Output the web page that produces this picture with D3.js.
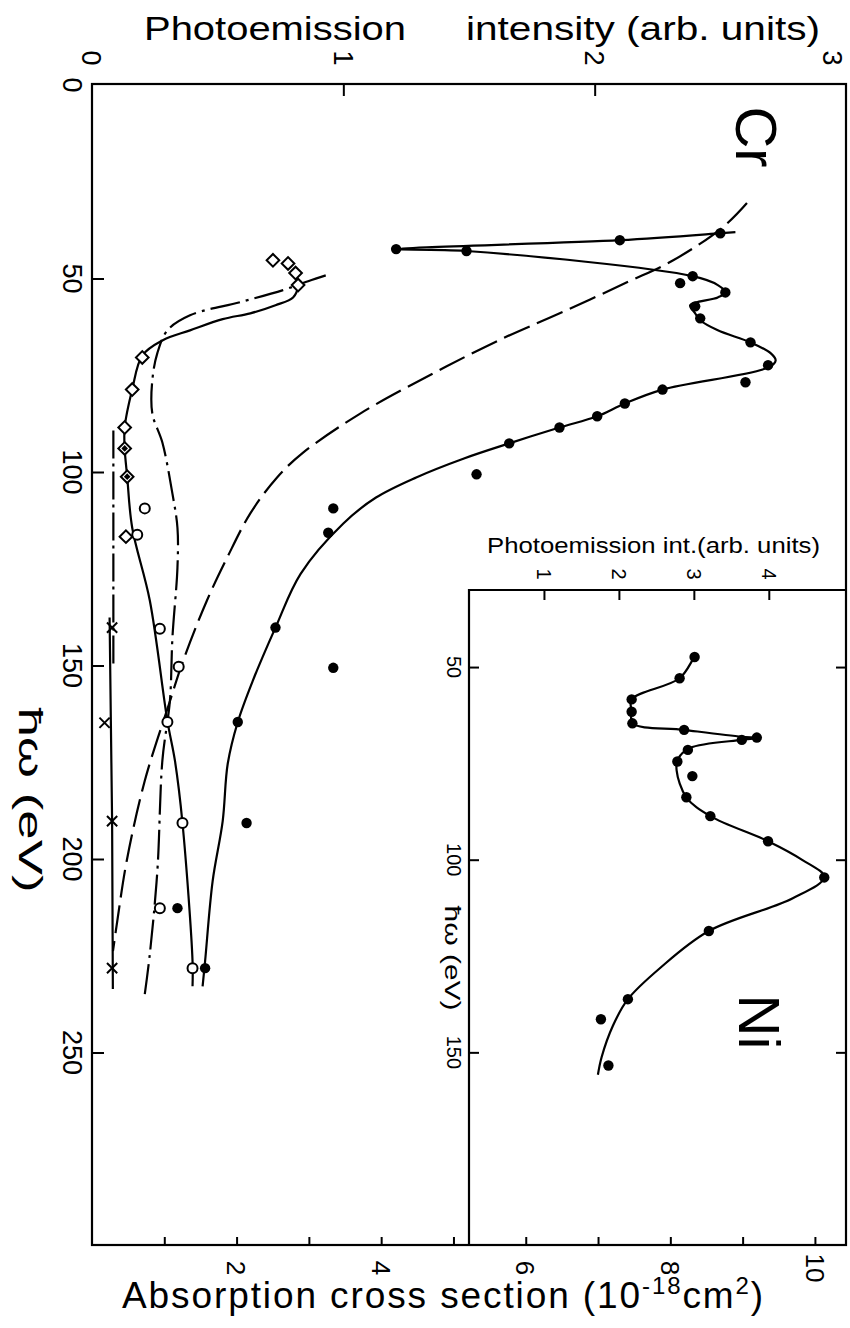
<!DOCTYPE html>
<html lang="en">
<head>
<meta charset="utf-8">
<title>Cr and Ni photoemission</title>
<script src="https://d3js.org/d3.v7.min.js"></script>
<style>
  body { margin: 0; background: #fff; }
  svg { display: block; background: #fff; }
  text { font-family: "Liberation Sans", Arial, sans-serif; fill: #000; }
  .frame { fill: none; stroke: #000; stroke-width: 2.2px; }
  .tick line { stroke: #000; stroke-width: 2px; }
  .curve { fill: none; stroke: #000; stroke-width: 2.2px; }
</style>
</head>
<body>
<svg width="850" height="1328"></svg>
<script>

// ---- data: [photon energy (eV), value] ----
// Cr photoemission intensity (filled dots) and the solid line through them
var crDots = [[38.3,2.50],[40.1,2.10],[42.4,1.21],[42.9,1.49],[49.4,2.39],[51.2,2.34],[53.6,2.52],
  [57.2,2.40],[60.3,2.42],[66.5,2.62],[72.4,2.69],[76.8,2.60],[78.7,2.27],[82.3,2.12],[85.6,2.01],
  [88.5,1.86],[92.6,1.66],[100.6,1.53],[109.4,0.96],[115.7,0.94],[140.2,0.73],[150.6,0.96],
  [164.6,0.58],[190.7,0.615],[212.7,0.34],[228.2,0.45]];
var crLine = [[38.0,2.56],[38.3,2.50],[40.1,2.10],[42.4,1.21],[42.9,1.49],[49.4,2.39],[51.7,2.49],
  [53.6,2.52],[54.9,2.49],[56.9,2.38],[59.0,2.40],[60.8,2.42],[63.4,2.49],[66.5,2.62],[69.3,2.70],
  [71.2,2.72],[73.0,2.69],[78.7,2.27],[82.3,2.12],[85.6,2.01],[88.5,1.86],[92.6,1.66],[96.5,1.48],
  [101.4,1.29],[106.6,1.13],[113.3,1.00],[126.3,0.83],[140.2,0.73],[153.9,0.64],[164.6,0.58],
  [175.4,0.54],[190.2,0.52],[205.7,0.48],[226.4,0.45],[232.9,0.44]];

// Cr absorption cross section (long dashes, bottom axis, 10^-18 cm^2)
var crAbsorption = [[30.5,9.06],[36.7,8.73],[45.3,8.04],[51.0,7.40],[59.0,6.47],[65.5,5.68],
  [74.5,4.72],[84.9,3.71],[95.0,2.92],[101.4,2.56],[110.7,2.19],[122.1,1.87],[133.2,1.59],
  [148.8,1.26],[159.1,1.08],[179.8,0.73],[200.5,0.48],[216.0,0.35],[223.8,0.29]];

// open diamonds / open circles and their solid line
var diamonds = [[45.3,0.72],[46.1,0.78],[48.6,0.81],[51.7,0.82],[70.4,0.20],[78.7,0.16],[88.5,0.13],[116.7,0.135]];
var markedDiamonds = [[93.9,0.13],[101.2,0.14]];
var openCircles = [[109.4,0.21],[116.2,0.18],[140.5,0.27],[150.3,0.345],[164.6,0.30],[190.7,0.36],[212.7,0.27],[228.2,0.40]];
var openLine = [[48.6,0.81],[51.7,0.82],[54.9,0.80],[56.9,0.73],[59.0,0.63],[60.5,0.52],[63.4,0.39],
  [66.0,0.28],[69.9,0.20],[78.7,0.16],[88.5,0.13],[93.9,0.13],[101.2,0.14],[114.4,0.16],[133.2,0.23],
  [164.3,0.30],[174.6,0.33],[190.7,0.36],[226.4,0.40],[232.9,0.40]];

// dash-dot curve
var dashDotLine = [[49.2,0.93],[50.7,0.86],[53.0,0.76],[56.1,0.59],[59.5,0.39],[63.4,0.30],[69.3,0.26],
  [76.3,0.24],[84.9,0.24],[92.4,0.28],[105.6,0.32],[114.4,0.34],[124.7,0.34],[142.8,0.32],[159.1,0.31],
  [174.6,0.28],[203.1,0.26],[224.6,0.23],[234.9,0.21]];

// crosses and their line, plus the short dash-dot-dot line above them
var crosses = [[140.2,0.08],[164.8,0.05],[190.2,0.08],[228.2,0.08]];
var crossLine = [[137.6,0.07],[164.3,0.075],[190.2,0.08],[233.6,0.083]];
var dashDotDotLine = [[89.3,0.085],[150.6,0.085]];

// Ni inset: photoemission intensity
var niDots = [[47.4,3.01],[52.9,2.81],[58.4,2.17],[61.6,2.17],[64.6,2.18],[66.3,2.87],[68.3,3.84],
  [68.9,3.64],[71.5,2.92],[74.5,2.78],[78.3,2.98],[83.8,2.90],[88.7,3.22],[95.2,3.99],[104.6,4.74],
  [118.5,3.20],[136.2,2.12],[141.4,1.76],[153.4,1.86]];
var niLine = [[46.7,3.05],[47.4,3.01],[52.9,2.81],[58.4,2.17],[61.6,2.17],[64.6,2.18],[66.3,2.87],
  [68.1,3.64],[68.4,3.84],[68.9,3.64],[71.0,2.95],[73.8,2.79],[76.8,2.77],[83.8,2.90],[88.7,3.22],
  [95.2,3.99],[100.1,4.45],[104.5,4.74],[110.0,4.32],[118.5,3.20],[128.1,2.55],[136.2,2.12],
  [143.1,1.92],[151.2,1.77],[155.8,1.72]];

// ticks
var hwTicks = [0, 50, 100, 150, 200, 250];
var intTicks = [0, 1, 2, 3];
var absTicks = [1, 2, 3, 4, 5, 6, 7, 8, 9, 10];
var absLabels = [2, 4, 6, 8, 10];
var niHwTicks = [50, 100, 150];
var niIntTicks = [1, 2, 3, 4];

// ---- layout ----
var svg = d3.select("svg"),
    width = +svg.attr("width");
var frame = {left: 92, right: 846, top: 84, bottom: 1245};
var inset = {left: 469, top: 590};

// the figure is turned a quarter: energy runs down, intensity runs right
var hw = d3.scaleLinear().domain([0, 300]).range([frame.top + 1, frame.bottom + 1]);
var inten = d3.scaleLinear().domain([0, 3]).range([frame.left, frame.right]);
var absorb = d3.scaleLinear().domain([0, 10.43]).range([frame.left, frame.right]);
var niHw = d3.scaleLinear().domain([30, 200]).range([inset.top, frame.bottom]);
var niInt = d3.scaleLinear().domain([0, 5.03]).range([inset.left, frame.right]);

var lineMain = d3.line().x(d => inten(d[1])).y(d => hw(d[0])).curve(d3.curveCatmullRom.alpha(0.5));
var lineAbs = d3.line().x(d => absorb(d[1])).y(d => hw(d[0])).curve(d3.curveCatmullRom.alpha(0.5));
var lineNi = d3.line().x(d => niInt(d[1])).y(d => niHw(d[0])).curve(d3.curveCatmullRom.alpha(0.5));

// frames
svg.append("rect").attr("class", "frame")
  .attr("x", frame.left).attr("y", frame.top)
  .attr("width", frame.right - frame.left).attr("height", frame.bottom - frame.top);
svg.append("path").attr("class", "frame")
  .attr("d", "M" + frame.right + "," + inset.top + "H" + inset.left + "V" + frame.bottom);

// tick marks (inward)
function ticks(axis, tx, ty) {
  svg.append("g").attr("class", "tick")
    .attr("transform", "translate(" + tx + "," + ty + ")")
    .call(axis.tickFormat(""))
    .call(g => g.select(".domain").remove())
    .call(g => g.selectAll("line").attr("stroke-width", 2));
}
ticks(d3.axisRight(hw).tickValues(hwTicks.slice(1)).tickSize(12), frame.left, 0);
ticks(d3.axisBottom(inten).tickValues([1, 2]).tickSize(12), 0, frame.top);
ticks(d3.axisTop(absorb).tickValues(absTicks).tickSize(8), 0, frame.bottom);
ticks(d3.axisBottom(niInt).tickValues(niIntTicks).tickSize(10), 0, inset.top);
ticks(d3.axisRight(niHw).tickValues(niHwTicks).tickSize(10), inset.left, 0);
ticks(d3.axisLeft(niHw).tickValues(niHwTicks).tickSize(10), frame.right, 0);

// rotated tick labels
function rotLabels(data, xf, yf, size) {
  svg.append("g").selectAll("text").data(data).enter().append("text")
    .attr("transform", d => "translate(" + xf(d) + "," + yf(d) + ") rotate(90)")
    .attr("text-anchor", "middle")
    .attr("dy", "0.36em")
    .style("font-size", size + "px")
    .text(d => d);
}
rotLabels(hwTicks, d => 73, d => hw(d), 27);
rotLabels(intTicks, d => Math.min(inten(d), width - 17), d => 58, 27);
rotLabels(absLabels, d => absorb(d), d => 1268, 26);
rotLabels(niIntTicks, d => niInt(d), d => 574, 20);
rotLabels(niHwTicks, d => 454, d => niHw(d), 20);

function rotText(txt, x, y, size, len) {
  var t = svg.append("text")
    .attr("transform", "translate(" + x + "," + y + ") rotate(90)")
    .attr("text-anchor", "middle").attr("dy", "0.36em")
    .style("font-size", size + "px").text(txt);
  if (len) t.attr("textLength", len).attr("lengthAdjust", "spacingAndGlyphs");
}
rotText("\u0127\u03c9 (eV)", 31, 800, 34, 185);
rotText("\u0127\u03c9 (eV)", 453, 958, 22, 105);
rotText("Cr", 757, 137, 58);
rotText("Ni", 760, 1022, 58);

// axis titles (upright)
svg.append("text").attr("x", 144).attr("y", 40).style("font-size", "34px")
  .attr("textLength", 262).attr("lengthAdjust", "spacingAndGlyphs").text("Photoemission");
svg.append("text").attr("x", 466).attr("y", 40).style("font-size", "34px")
  .attr("textLength", 354).attr("lengthAdjust", "spacingAndGlyphs").text("intensity (arb. units)");
svg.append("text").attr("x", 487).attr("y", 553).style("font-size", "22px")
  .attr("textLength", 333).attr("lengthAdjust", "spacingAndGlyphs").text("Photoemission int.(arb. units)");

var bt = svg.append("text").attr("x", 122).attr("y", 1308)
  .style("font-size", "37px").style("letter-spacing", "1.9px");
bt.append("tspan").text("Absorption cross section  (10");
bt.append("tspan").attr("dy", -14).style("font-size", "24px").text("-18");
bt.append("tspan").attr("dy", 14).text("cm");
bt.append("tspan").attr("dy", -14).style("font-size", "24px").text("2");
bt.append("tspan").attr("dy", 14).text(")");

// curves
svg.append("path").datum(crAbsorption).attr("class", "curve")
  .attr("stroke-dasharray", "28,8").attr("d", lineAbs);
svg.append("path").datum(dashDotLine).attr("class", "curve")
  .attr("stroke-dasharray", "30,6,3,6").attr("d", lineMain);
svg.append("path").datum(dashDotDotLine).attr("class", "curve")
  .attr("stroke-dasharray", "28,5,3,5").attr("d", d3.line().x(d => inten(d[1])).y(d => hw(d[0])));
svg.append("path").datum(crossLine).attr("class", "curve")
  .attr("d", d3.line().x(d => inten(d[1])).y(d => hw(d[0])));
svg.append("path").datum(openLine).attr("class", "curve").attr("d", lineMain);
svg.append("path").datum(crLine).attr("class", "curve").attr("d", lineMain);
svg.append("path").datum(niLine).attr("class", "curve").attr("d", lineNi);

// markers
svg.append("g").selectAll("circle").data(crDots).enter().append("circle")
  .attr("cx", d => inten(d[1])).attr("cy", d => hw(d[0])).attr("r", 5.2).attr("fill", "#000");
svg.append("g").selectAll("circle").data(niDots).enter().append("circle")
  .attr("cx", d => niInt(d[1])).attr("cy", d => niHw(d[0])).attr("r", 5.2).attr("fill", "#000");
svg.append("g").selectAll("circle").data(openCircles).enter().append("circle")
  .attr("cx", d => inten(d[1])).attr("cy", d => hw(d[0])).attr("r", 5)
  .attr("fill", "#fff").attr("stroke", "#000").attr("stroke-width", 2);

var diamond = d3.symbol(d3.symbolSquare, 80);
svg.append("g").selectAll("path").data(diamonds.concat(markedDiamonds)).enter().append("path")
  .attr("transform", d => "translate(" + inten(d[1]) + "," + hw(d[0]) + ") rotate(45)")
  .attr("d", diamond).attr("fill", "#fff").attr("stroke", "#000").attr("stroke-width", 2);
svg.append("g").selectAll("path").data(markedDiamonds).enter().append("path")
  .attr("transform", d => "translate(" + inten(d[1]) + "," + hw(d[0]) + ") rotate(45)")
  .attr("d", d3.symbol(d3.symbolSquare, 22)).attr("fill", "#000");

svg.append("g").selectAll("path").data(crosses).enter().append("path")
  .attr("transform", d => "translate(" + inten(d[1]) + "," + hw(d[0]) + ")")
  .attr("d", d3.symbol(d3.symbolX, 70)).attr("fill", "none").attr("stroke", "#000").attr("stroke-width", 2);

</script>
</body>
</html>
